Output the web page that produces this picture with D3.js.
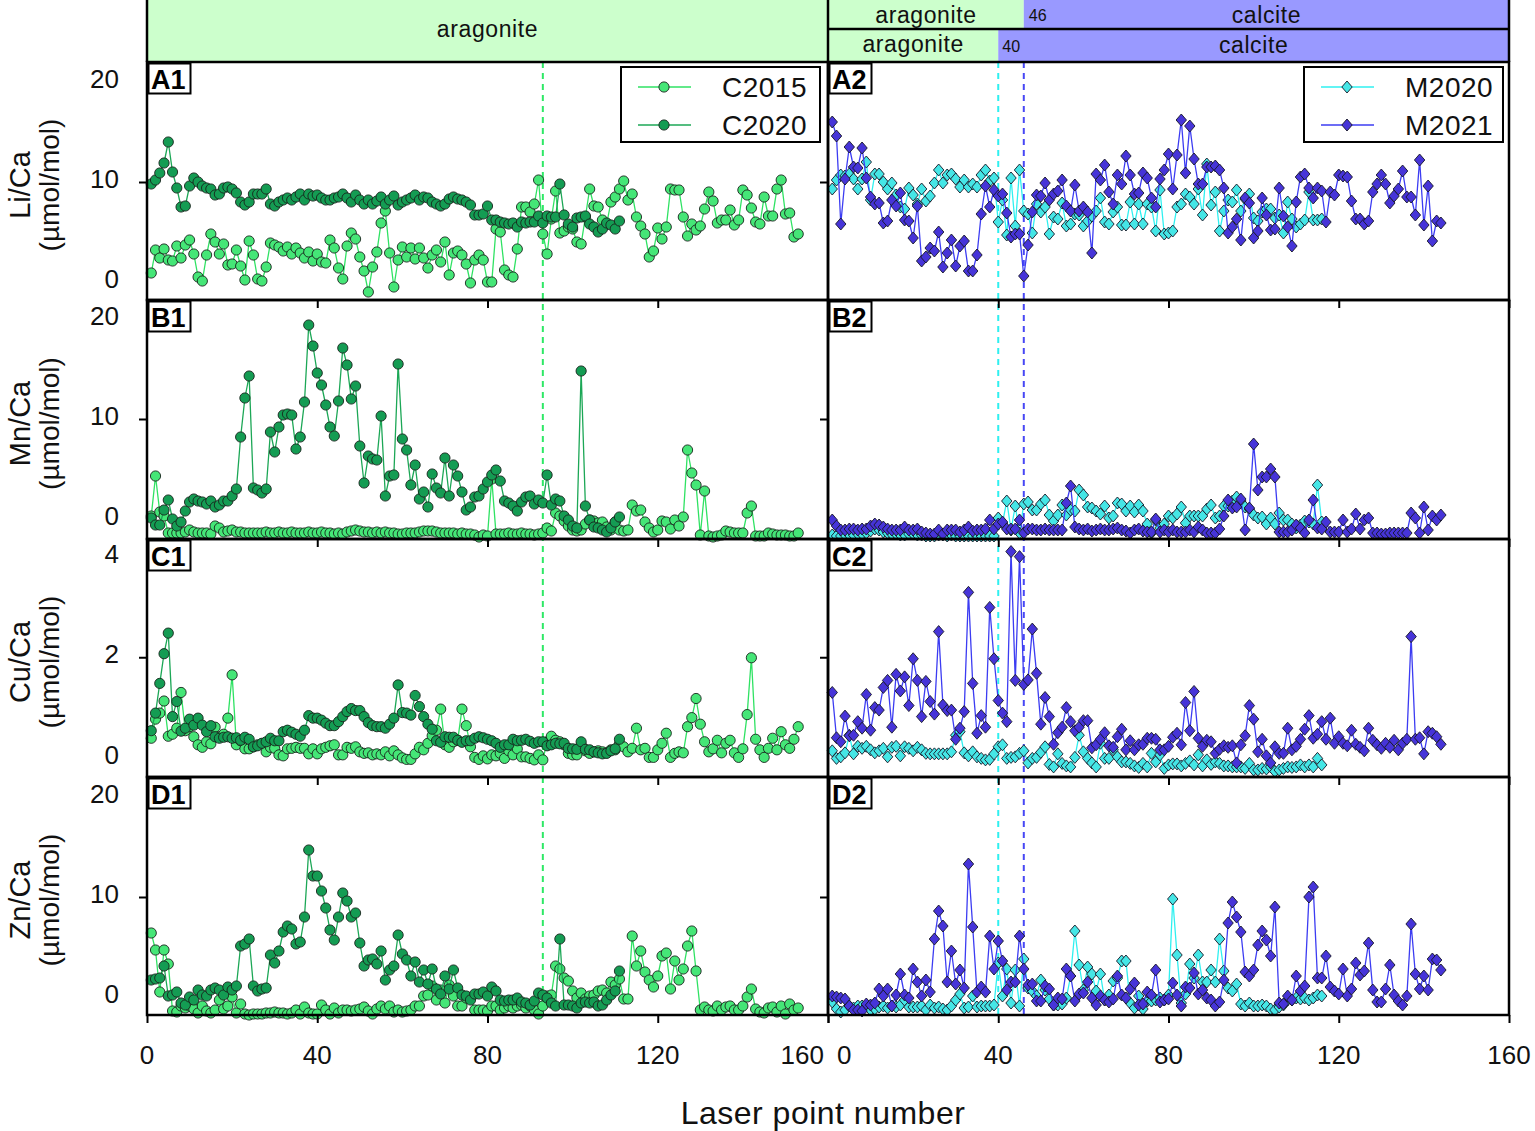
<!DOCTYPE html>
<html>
<head>
<meta charset="utf-8">
<script src="https://cdn.jsdelivr.net/npm/d3@7"></script>
<style>
  body { margin: 0; background: #fff; }
  svg { display: block; }
</style>
</head>
<body>
<svg id="chart" width="1535" height="1131"></svg>
<script>
// ------------------------------------------------------------
// Element/Ca ratios along laser transects
// index i -> laser point number i+1
// ------------------------------------------------------------

// ---- Li/Ca ----
const liC2015 = [
  0.9, 3.2, 2.4, 3.3, 2.2, 2.1, 3.6, 2.4, 3.7, 4.2,
  2.8, 0.5, 0.1, 2.7, 4.8, 4.0, 2.8, 3.8, 1.7, 1.8,
  3.2, 1.6, 0.2, 4.1, 2.7, 0.3, 0.1, 1.5, 3.9, 3.7,
  3.5, 3.1, 3.5, 2.8, 3.4, 2.9, 2.4, 3.0, 2.1, 2.8,
  2.0, 1.9, 4.2, 3.4, 1.4, 0.3, 3.6, 4.9, 4.3, 2.5,
  1.1, -1.0, 1.5, 3.0, 5.9, 7.1, 2.9, -0.5, 2.2, 3.5,
  2.5, 3.4, 2.3, 3.4, 2.4, 1.4, 2.7, 3.2, 2.0, 4.0,
  0.7, 2.9, 3.1, 2.7, 1.8, -0.1, 2.2, 2.7, 2.2, 0.0,
  0.0, 5.3, 5.0, 1.2, 0.7, 0.5, 3.3, 7.5, 7.5, 7.0,
  7.8, 10.2, 4.8, 2.8, 6.3, 9.1, 4.9, 5.1, 5.5, 5.3,
  4.0, 3.8, 6.5, 9.3, 7.6, 7.5, 6.2, 5.8, 8.0, 8.5,
  9.3, 10.1, 8.2, 8.8, 6.5, 5.6, 4.8, 2.5, 3.1, 5.4,
  4.3, 5.5, 9.3, 9.2, 9.2, 6.5, 4.6, 5.8, 5.2, 5.6,
  7.3, 9.0, 8.1, 5.9, 6.2, 6.2, 7.2, 5.7, 6.2, 9.2,
  8.7, 7.4, 6.0, 5.8, 8.5, 6.6, 6.6, 9.3, 10.2, 6.8,
  6.9, 4.5, 4.8
];
const liC2020 = [
  9.8, 10.2, 10.9, 11.9, 14.0, 11.0, 9.4, 7.5, 7.6, 9.6,
  10.4, 10.0, 9.6, 9.4, 9.3, 8.7, 8.8, 9.4, 9.5, 9.3,
  8.9, 8.0, 7.7, 8.0, 8.8, 8.8, 8.8, 9.3, 7.8, 7.6,
  8.0, 8.2, 8.4, 8.2, 8.5, 8.8, 8.2, 8.8, 8.6, 8.7,
  8.4, 8.2, 8.2, 8.4, 8.5, 8.8, 8.4, 8.0, 8.7, 8.2,
  7.8, 8.2, 7.8, 8.1, 8.5, 7.8, 8.2, 8.6, 7.7, 8.0,
  8.2, 8.4, 8.7, 8.2, 8.5, 8.4, 8.0, 7.8, 7.6, 7.8,
  8.3, 8.5, 8.3, 8.2, 8.0, 7.7, 6.7, 6.7, 6.8, 7.6,
  6.2, 6.2, 6.0, 5.9, 5.8, 5.9, 5.5, 6.0, 5.9, 6.0,
  6.0, 6.6, 5.9, 6.6, 6.5, 6.5, 9.8, 6.7, 5.8, 5.5,
  6.4, 6.5, 6.6, 5.8, 5.5, 5.0, 5.3, 5.9, 5.7, 5.3, 6.1
];
const liM2020 = [
  9.3, 10.2, 10.7, 10.6, 10.8, 10.3, 9.3, 10.3, 12.0, 8.2,
  10.8, 10.8, 10.0, 9.3, 9.9, 8.7, 7.5, 7.3, 9.4, 8.7,
  7.8, 9.3, 8.1, 8.6, 9.9, 11.2, 9.9, 10.7, 10.8, 10.3,
  9.5, 10.2, 9.5, 9.8, 9.5, 10.7, 11.2, 10.1, 10.4, 6.0,
  8.2, 4.7, 10.4, 5.6, 11.2, 7.1, 6.8, 4.9, 7.8, 7.0,
  7.5, 4.8, 6.5, 6.3, 7.9, 5.6, 5.8, 6.8, 6.7, 5.6,
  6.1, 6.6, 7.1, 8.4, 6.0, 5.8, 7.0, 7.5, 5.7, 5.7,
  8.0, 5.8, 7.8, 5.8, 7.8, 7.5, 5.1, 9.2, 4.8, 4.9,
  5.1, 7.5, 7.8, 8.8, 8.5, 7.8, 9.3, 6.7, 11.8, 7.7,
  9.0, 5.1, 7.1, 8.2, 8.0, 9.2, 7.1, 8.3, 8.8, 6.4,
  6.1, 7.0, 7.3, 7.3, 6.4, 6.7, 4.9, 8.0, 6.3, 5.5,
  5.8, 6.2, 9.0, 6.2, 6.2, 6.3
];
const liM2021 = [
  16.0, 14.6, 5.8, 10.3, 13.5, 11.5, 11.4, 13.4, 10.4, 8.5,
  7.8, 7.9, 5.9, 6.1, 8.2, 7.6, 8.9, 6.2, 6.1, 4.4,
  7.6, 2.1, 2.5, 3.4, 3.1, 5.0, 1.5, 2.9, 4.2, 1.6,
  3.6, 4.1, 1.1, 1.1, 2.7, 6.8, 9.6, 7.5, 9.2, 8.6,
  8.8, 6.9, 4.5, 4.8, 4.8, 0.6, 3.7, 7.0, 8.7, 8.6,
  9.9, 8.2, 8.8, 9.1, 10.2, 7.6, 7.1, 9.7, 7.1, 7.5,
  7.0, 2.9, 10.8, 10.2, 11.7, 9.0, 7.8, 10.7, 9.8, 12.6,
  10.7, 8.8, 8.9, 10.9, 10.4, 8.4, 7.5, 10.3, 11.2, 12.8,
  9.3, 12.7, 16.2, 10.9, 15.6, 12.3, 9.8, 9.8, 11.5, 11.5,
  11.6, 11.2, 9.4, 4.9, 5.5, 6.3, 4.2, 8.4, 7.9, 4.4,
  5.1, 8.4, 6.7, 5.2, 5.3, 9.4, 6.6, 5.5, 3.6, 8.0,
  10.5, 10.8, 9.4, 8.4, 9.4, 9.1, 6.0, 9.0, 8.7, 10.7,
  10.6, 10.5, 8.1, 6.3, 6.3, 5.8, 6.1, 9.0, 9.8, 10.7,
  9.8, 7.9, 8.6, 9.3, 11.1, 8.5, 8.5, 6.7, 12.2, 5.7,
  9.6, 4.1, 6.1, 5.9
];

// ---- Mn/Ca ----
const mnC2015 = [
  0.3, 4.3, 0.7, 0.3, -1.4, -1.4, -1.4, -1.4, -1.3, -1.1,
  -1.3, -1.4, -1.4, -1.4, -1.5, -0.7, -0.9, -1.3, -1.2, -1.1,
  -1.3, -1.3, -1.4, -1.4, -1.4, -1.4, -1.4, -1.3, -1.4, -1.4,
  -1.3, -1.4, -1.4, -1.3, -1.4, -1.4, -1.4, -1.3, -1.4, -1.4,
  -1.3, -1.4, -1.4, -1.5, -1.4, -1.5, -1.3, -1.2, -1.1, -1.2,
  -1.3, -1.3, -1.4, -1.3, -1.4, -1.3, -1.4, -1.4, -1.5, -1.5,
  -1.4, -1.4, -1.4, -1.3, -1.2, -1.2, -1.2, -1.3, -1.4, -1.4,
  -1.4, -1.4, -1.5, -1.4, -1.5, -1.5, -1.6, -1.8, -1.6, -1.7,
  4.0, -1.5, -1.5, -1.5, -1.4, -1.5, -1.5, -1.4, -1.5, -1.5,
  -1.6, -1.5, -1.4, -0.9, -1.2, 0.6, 0.3, -0.2, -0.7, -1.1,
  -1.2, -1.1, -0.5, -0.1, -0.2, -0.4, -0.3, -0.8, -1.1, -0.3,
  -1.1, -1.2, -1.1, 1.4, 0.8, 0.9, -0.3, -0.9, -1.3, -1.1,
  -0.2, -0.3, -1.0, -0.1, -0.7, 0.2, 6.9, 4.6, 3.4, -1.6,
  2.8, -1.7, -1.8, -1.7, -1.6, -1.2, -1.3, -1.4, -1.4, -1.4,
  0.6, 1.3, -1.7, -1.7, -1.7, -1.4, -1.5, -1.6, -1.6, -1.6,
  -1.7, -1.7, -1.4
];
const mnC2020 = [
  0.1, -0.6, -0.6, 0.9, 1.9, 0.0, -0.7, -0.3, 0.8, 1.7,
  2.0, 1.8, 1.7, 1.5, 1.8, 1.2, 1.4, 1.8, 1.8, 2.3,
  3.0, 8.2, 12.1, 14.3, 3.1, 2.9, 2.6, 3.0, 8.7, 6.7,
  9.2, 10.4, 10.5, 10.4, 7.0, 8.2, 11.7, 19.4, 17.3, 14.6,
  13.4, 11.4, 9.2, 8.3, 11.8, 17.1, 15.4, 12.0, 13.3, 7.3,
  3.6, 6.3, 6.0, 5.9, 10.3, 2.3, 4.3, 4.4, 15.5, 8.0,
  6.9, 3.4, 5.4, 2.0, 2.7, 1.2, 4.5, 3.1, 2.6, 6.1,
  2.3, 5.4, 4.3, 2.7, 0.9, 1.2, 2.2, 2.3, 3.0, 3.7,
  4.4, 4.9, 3.8, 1.8, 1.6, 1.3, 0.8, 1.7, 2.2, 2.3,
  1.5, 1.9, 1.6, 4.4, 1.4, 2.0, 1.8, 0.3, -0.1, -0.7,
  -0.9, 14.8, 1.3, -0.1, -0.8, -0.9, -1.1, -1.3, -0.9, -0.3, 0.2
];
const mnM2020 = [
  -1.6, -1.7, -1.7, -1.6, -1.6, -1.6, -1.5, -1.5, -1.4, -1.2,
  -1.0, -1.1, -1.3, -1.4, -1.5, -1.5, -1.6, -1.6, -1.5, -1.5,
  -1.6, -1.6, -1.7, -1.7, -1.7, -1.6, -1.6, -1.7, -1.6, -1.7,
  -1.7, -1.7, -1.7, -1.7, -1.7, -1.7, -1.7, -1.7, -1.7, 0.1,
  -0.4, 1.8, -1.1, 1.3, -1.4, 1.5, 1.7, 0.9, 0.9, 1.5,
  1.9, 0.4, -0.2, 0.4, 1.4, 0.4, 0.9, 0.8, 2.9, 2.4,
  1.2, 1.1, 0.8, 0.5, 1.3, 0.1, 0.3, 1.6, 1.5, 0.8,
  1.3, 0.7, 1.4, 0.8, -0.5, -1.4, -0.1, -0.9, -0.5, 0.3,
  0.1, 0.5, 1.2, -0.4, 0.3, 0.3, 0.3, 0.3, 1.0, 1.4,
  0.1, 0.3, 1.3, 1.3, 1.8, 2.2, 1.8, 1.2, 1.0, 0.4,
  0.1, 0.2, -0.5, 0.1, -0.5, 0.6, -0.1, -0.1, -0.5, -0.9,
  -0.6, -0.2, -0.3, -0.5, 3.4, -0.3
];
const mnM2021 = [
  -0.1, -0.7, -1.1, -1.1, -1.0, -1.0, -1.1, -1.0, -1.0, -0.7,
  -0.5, -0.6, -0.8, -1.0, -1.1, -1.1, -1.1, -0.8, -1.1, -1.1,
  -1.0, -1.3, -1.4, -1.5, -1.5, -1.1, -1.5, -1.1, -1.1, -1.1,
  -1.3, -1.1, -0.8, -1.2, -1.1, -1.1, -1.0, -0.1, -1.0, -0.5,
  -0.3, -1.0, -1.0, -1.0, -0.1, -1.4, -1.0, -1.0, -1.1, -1.1,
  -1.0, -1.1, -1.1, -1.1, -1.1, 1.6, 3.3, -0.8, -1.0, -1.1,
  -1.0, -1.2, -1.1, -1.0, -1.1, -1.1, -1.0, -0.9, -1.1, -1.2,
  -1.4, -1.1, -1.0, -1.2, -1.3, -1.3, 0.0, -1.3, -1.1, -1.3,
  -1.1, -1.3, -1.3, -1.3, -1.1, -1.3, -0.8, -1.1, -1.4, -1.4,
  -1.4, -1.0, 0.3, 1.9, 1.1, 1.2, 2.0, -1.1, 1.1, 7.5,
  2.9, 4.2, 4.2, 5.0, 4.2, -1.3, -1.3, -1.3, -1.1, -0.6,
  -0.9, -1.4, -0.1, 1.9, -0.9, -1.0, -0.3, -1.3, -1.3, -1.3,
  -0.1, -1.3, -1.0, 0.5, -1.0, -0.1, 0.1, -1.4, -1.4, -1.5,
  -1.5, -1.4, -1.4, -1.4, -1.4, -1.4, 0.6, 0.1, -1.4, 1.2,
  -1.1, 0.3, -0.1, 0.4
];

// ---- Cu/Ca ----
const cuC2015 = [
  0.39, 0.77, 0.89, 1.13, 0.43, 0.47, 0.59, 1.30, 0.54, 0.62,
  0.42, 0.26, 0.21, 0.32, 0.28, 0.61, 0.42, 0.47, 0.79, 1.65,
  0.26, 0.34, 0.18, 0.18, 0.22, 0.26, 0.28, 0.12, 0.21, 0.19,
  0.06, 0.04, 0.18, 0.19, 0.21, 0.19, 0.19, 0.08, 0.18, 0.08,
  0.18, 0.21, 0.24, 0.26, 0.06, 0.06, 0.21, 0.19, 0.22, 0.12,
  0.09, 0.10, 0.06, 0.08, 0.06, 0.12, 0.04, 0.14, 0.06, 0.00,
  -0.03, -0.03, 0.08, 0.21, 0.16, 0.29, 0.44, 0.55, 0.97, 0.26,
  0.21, 0.32, 0.35, 0.97, 0.64, 0.22, 0.01, -0.03, 0.04, -0.02,
  0.06, 0.04, 0.09, -0.01, 0.14, 0.06, 0.18, 0.02, 0.02, -0.01,
  -0.04, 0.06, -0.04, 0.32, 0.43, 0.35, 0.32, 0.26, 0.09, 0.06,
  0.06, 0.26, 0.14, 0.09, 0.12, 0.14, 0.12, 0.10, 0.16, 0.16,
  0.28, 0.22, 0.12, 0.19, 0.59, 0.16, 0.19, 0.01, 0.01, 0.16,
  0.29, 0.49, 0.01, 0.09, 0.12, 0.10, 0.62, 0.80, 1.18, 0.67,
  0.32, 0.12, 0.18, 0.35, 0.10, 0.29, 0.35, 0.10, 0.01, 0.18,
  0.86, 1.99, 0.37, 0.16, 0.01, 0.19, 0.39, 0.16, 0.52, 0.26,
  0.19, 0.37, 0.62
];
const cuC2020 = [
  0.54, 0.89, 1.48, 2.07, 2.48, 0.82, 1.12, 0.53, 0.59, 0.77,
  0.65, 0.79, 0.65, 0.52, 0.64, 0.42, 0.39, 0.41, 0.42, 0.39,
  0.40, 0.35, 0.41, 0.37, 0.22, 0.24, 0.29, 0.32, 0.39, 0.34,
  0.34, 0.52, 0.55, 0.51, 0.47, 0.43, 0.55, 0.84, 0.79, 0.79,
  0.75, 0.69, 0.64, 0.64, 0.72, 0.82, 0.92, 0.98, 0.94, 0.94,
  0.82, 0.70, 0.64, 0.62, 0.62, 0.59, 0.67, 0.79, 1.45, 0.90,
  0.89, 0.85, 1.24, 1.02, 0.82, 0.67, 0.57, 0.34, 0.31, 0.42,
  0.41, 0.41, 0.35, 0.31, 0.34, 0.34, 0.39, 0.42, 0.40, 0.37,
  0.34, 0.29, 0.21, 0.26, 0.26, 0.37, 0.34, 0.35, 0.37, 0.33,
  0.29, 0.32, 0.32, 0.24, 0.26, 0.29, 0.28, 0.29, 0.19, 0.18,
  0.17, 0.32, 0.17, 0.16, 0.12, 0.10, 0.08, 0.09, 0.14, 0.18, 0.37
];
const cuM2020 = [
  0.14, -0.01, 0.02, 0.10, 0.45, 0.08, 0.23, 0.19, 0.23, 0.16,
  0.10, 0.14, 0.19, 0.02, 0.21, 0.23, 0.04, 0.22, 0.19, 0.14,
  0.21, 0.16, 0.09, 0.08, 0.08, 0.08, 0.08, 0.08, 0.12, 0.45,
  0.52, 0.10, 0.04, 0.12, 0.02, -0.01, -0.04, -0.03, 0.08, 0.22,
  0.26, -0.01, 0.01, 0.02, 0.09, 0.14, -0.10, -0.01, 0.01, 0.11,
  0.22, -0.13, -0.18, 0.08, -0.11, -0.16, -0.18, 0.01, 0.45, 0.12,
  -0.01, -0.10, -0.18, 0.29, -0.01, -0.01, 0.16, 0.02, -0.08, -0.08,
  -0.11, -0.16, -0.19, -0.11, -0.18, 0.09, -0.08, 0.06, -0.21, -0.14,
  -0.12, -0.12, -0.16, -0.11, -0.06, -0.14, 0.06, -0.16, -0.04, -0.13,
  -0.08, -0.11, -0.16, -0.16, -0.18, -0.18, -0.18, -0.21, -0.11, -0.24,
  -0.24, -0.21, -0.22, -0.18, -0.27, -0.24, -0.21, -0.18, -0.19, -0.18,
  -0.14, -0.18, -0.14, -0.18, -0.01, -0.14
];
const cuM2021 = [
  1.30, 0.40, 0.32, 0.83, 0.44, 0.45, 0.72, 0.59, 1.26, 0.55,
  1.00, 0.95, 1.40, 1.54, 0.61, 1.66, 1.33, 1.61, 1.04, 1.97,
  1.54, 0.82, 1.52, 1.12, 0.87, 2.51, 1.05, 0.94, 0.95, 0.37,
  0.59, 0.92, 3.29, 1.48, 0.49, 0.84, 0.61, 2.99, 1.97, 1.14,
  0.89, 0.72, 4.10, 1.54, 4.00, 1.46, 1.55, 2.56, 1.68, 0.67,
  1.20, 0.82, 0.27, 0.50, 0.61, 1.00, 0.72, 0.54, 0.61, 0.74,
  0.74, 0.20, 0.26, 0.37, 0.50, 0.24, 0.21, 0.42, 0.57, 0.16,
  0.34, 0.16, 0.26, 0.27, 0.39, 0.39, 0.37, 0.16, 0.16, 0.23,
  0.41, 0.49, 0.26, 1.10, 0.54, 1.32, 0.39, 0.23, 0.35, 0.32,
  0.09, 0.17, 0.24, 0.21, 0.24, -0.10, 0.26, 0.44, 1.04, 0.77,
  0.12, 0.37, 0.04, -0.10, 0.22, 0.09, 0.09, 0.59, 0.16, 0.23,
  0.37, 0.57, 0.84, 0.39, 0.47, 0.72, 0.37, 0.79, 0.29, 0.42,
  0.29, 0.24, 0.55, 0.27, 0.21, 0.14, 0.59, 0.35, 0.26, 0.19,
  0.29, 0.21, 0.35, 0.16, 0.29, 0.37, 2.41, 0.37, 0.40, 0.08,
  0.52, 0.49, 0.42, 0.27
];

// ---- Zn/Ca ----
const znC2015 = [
  6.4, 4.7, 0.5, 4.7, 3.3, -1.4, -1.5, -0.9, -1.1, -0.9,
  -1.2, -1.6, -0.9, -1.4, -1.6, -1.3, -0.3, -1.2, -0.9, 0.0,
  -1.6, -0.7, -1.7, -1.8, -1.7, -1.7, -1.7, -1.6, -1.6, -1.5,
  -1.6, -1.6, -1.7, -1.6, -1.3, -1.7, -1.0, -1.6, -1.7, -1.7,
  -0.8, -1.3, -1.7, -1.1, -1.6, -1.3, -1.3, -1.4, -1.3, -1.2,
  -1.0, -1.4, -1.7, -1.2, -0.9, -1.2, -0.9, -1.5, -1.3, -1.5,
  -1.4, -1.3, -0.9, -0.9, 0.1, 0.2, 1.1, -0.3, 0.7, -0.6,
  1.2, 0.1, -0.9, -0.9, -0.1, -0.1, -1.3, -1.3, -1.3, -1.4,
  -0.9, -0.9, -1.3, -1.1, -0.9, -1.1, -0.9, -0.8, -1.1, -0.9,
  -1.3, -1.7, -0.9, 0.1, 0.2, 3.1, 2.8, 1.9, 1.6, 0.6,
  -0.1, 0.4, -0.2, 0.1, 0.2, 0.6, 0.7, 0.4, 1.5, 1.2,
  1.8, -0.2, -0.2, 6.1, 3.1, 4.6, 2.5, 1.7, 1.0, 2.1,
  4.1, 4.4, 0.8, 3.6, 1.7, 2.8, 5.1, 6.6, 2.6, -1.3,
  -1.0, -1.3, -1.4, -0.9, -1.3, -1.0, -0.9, -1.3, -1.3, -0.9,
  0.0, 0.8, -1.2, -1.5, -1.6, -1.1, -1.0, -1.5, -0.9, -1.7,
  -0.7, -1.3, -1.1
];
const znC2020 = [
  1.7, 1.8, 1.9, 3.1, 0.1, 0.2, 0.5, -0.6, -0.8, 0.0,
  -0.3, 0.7, 0.2, 0.1, 0.7, 0.9, 0.7, 0.2, 1.0, 0.7,
  1.1, 5.1, 5.3, 5.8, 1.1, 0.6, 0.8, 0.9, 4.2, 3.4,
  4.6, 6.5, 7.1, 6.8, 5.3, 5.5, 8.0, 14.7, 12.1, 12.1,
  10.6, 8.9, 6.7, 5.7, 8.0, 10.4, 9.6, 8.0, 8.4, 5.4,
  3.1, 3.7, 3.8, 3.3, 4.6, 1.7, 2.7, 3.1, 6.2, 4.3,
  3.7, 2.1, 3.5, 1.5, 2.7, 1.3, 2.8, 0.8, 0.3, 2.1,
  0.8, 2.7, 0.9, 0.2, 0.1, -0.3, 0.3, 0.3, 0.5, 0.1,
  1.0, 0.6, -0.3, -0.4, -0.3, -0.3, -0.1, -0.5, -0.6, -0.8,
  -0.4, 0.4, 0.2, -0.1, -0.6, -0.9, 5.8, -0.8, -0.8, -0.9,
  -1.1, -0.6, -0.5, -0.6, -0.5, -0.9, -0.8, -0.3, 0.2, 0.6, 2.6
];
const znM2020 = [
  -0.5, -1.2, -1.5, -1.3, -0.9, -1.1, -0.9, -0.9, -0.9, -1.3,
  -1.2, -1.0, -0.9, -1.1, -0.9, -1.0, -0.8, -0.3, -1.0, -1.0,
  -1.0, -0.9, -1.3, -0.8, -1.1, -1.0, -1.2, -1.3, -0.9, -0.3,
  0.3, -1.1, -1.0, 0.1, -1.0, -0.9, -0.9, -0.9, -0.8, 3.4,
  0.1, 2.8, -0.6, 2.7, -0.9, 3.8, 0.9, 0.6, 0.1, 1.7,
  0.7, -0.2, -0.8, -0.8, -0.7, -0.1, 2.1, 6.6, 3.2, 0.7,
  3.0, 2.3, 0.6, 2.3, -0.3, 0.2, 1.6, 1.9, 3.6, 3.6,
  -0.6, -1.1, 0.1, -1.2, -0.4, -0.4, -0.3, -0.1, -0.3, 0.2,
  9.8, 4.2, -0.6, 0.3, 3.3, 1.9, 4.2, 1.5, 1.5, 2.7,
  1.5, 5.8, 2.6, 0.9, 0.6, 1.3, -0.7, -0.9, -0.6, -0.9,
  -0.9, -0.8, -0.9, -1.2, -1.3, -1.0, -0.8, -0.3, -0.3, -0.1,
  -0.2, -0.1, -0.3, -0.1, 0.2, 0.1
];
const znM2021 = [
  0.1, 0.0, -0.1, -0.2, -0.9, -1.3, -1.3, -1.4, -0.7, -0.8,
  -0.6, 0.8, 0.1, 0.8, -0.9, 0.2, 2.3, 0.2, -0.1, 2.8,
  1.5, 0.1, 1.7, 0.5, 5.8, 8.6, 7.1, 1.5, 4.6, 1.3,
  2.7, 0.9, 13.3, 7.0, 0.5, 1.0, 0.5, 6.1, 2.8, 5.6,
  3.6, 0.7, 1.5, 1.5, 6.1, 2.8, 1.2, 1.3, -0.4, -0.4,
  1.1, 0.8, -0.8, -0.1, -0.2, 2.8, 2.1, -0.4, 0.3, 0.4,
  1.5, -0.1, -0.8, 0.1, -0.3, -0.5, -0.2, 2.1, 0.2, -0.1,
  0.8, 1.4, -0.8, -0.7, 0.5, 0.2, 2.7, -0.5, -0.3, -0.2,
  1.4, 0.2, -0.9, 1.0, 0.9, 2.4, 0.3, 0.7, -0.1, -0.3,
  -0.9, -0.5, 1.7, 7.4, 9.5, 8.0, 6.5, 2.5, 2.1, 2.7,
  5.2, 6.6, 5.7, 4.1, 9.0, -0.6, -0.7, 0.1, -0.3, 2.1,
  0.6, 1.1, 10.0, 11.0, 1.9, 1.9, 4.1, 1.0, 0.6, 0.3,
  2.8, 0.1, 0.8, 3.4, 2.2, 2.6, 5.4, 0.7, -0.5, -0.5,
  0.8, 3.2, 0.2, -0.4, -0.8, 0.1, 7.3, 2.3, 0.8, 2.1,
  0.7, 3.8, 3.7, 2.7
];

// ---- axes ----
const xTicks = [0, 40, 80, 120, 160];
const rowLabels = ['Li/Ca', 'Mn/Ca', 'Cu/Ca', 'Zn/Ca'];
const rowTags = [['A1', 'A2'], ['B1', 'B2'], ['C1', 'C2'], ['D1', 'D2']];
const rowDomains = [[-1.8, 22], [-2, 21.9], [-0.38, 4.35], [-1.8, 22]];
const rowTickLabels = [[0, 10, 20], [0, 10, 20], [0, 2, 4], [0, 10, 20]];
const rowMidTick = [10, 10, 2, 10];
const unitLabel = '(\u00b5mol/mol)';

// ---- mineralogy bands / boundaries ----
const leftBoundary = 93;      // dashed line, C series
const m2020Boundary = 40;     // aragonite -> calcite, M2020
const m2021Boundary = 46;     // aragonite -> calcite, M2021

// ------------------------------------------------------------
const FONT = '"Liberation Sans", Arial, Helvetica, sans-serif';
const svg = d3.select('#chart').style('font-family', FONT);

const styles = {
  C2015: { line: '#2fe263', fill: '#45e677', shape: 'circle' },
  C2020: { line: '#1ca756', fill: '#149c53', shape: 'circle' },
  M2020: { line: '#2ff0f0', fill: '#45e6e6', shape: 'diamond' },
  M2021: { line: '#3c3cf2', fill: '#4634d8', shape: 'diamond' }
};

const rows = rowLabels.map((label, r) => ({
  label,
  tags: rowTags[r],
  domain: rowDomains[r],
  tickLabels: rowTickLabels[r],
  mid: rowMidTick[r],
  left: [['C2015', [liC2015, mnC2015, cuC2015, znC2015][r]],
         ['C2020', [liC2020, mnC2020, cuC2020, znC2020][r]]],
  right: [['M2020', [liM2020, mnM2020, cuM2020, znM2020][r]],
          ['M2021', [liM2021, mnM2021, cuM2021, znM2021][r]]]
}));

const rowTop = [62, 300, 539, 777];
const rowBot = [300, 539, 777, 1015];
const xL = d3.scaleLinear().domain([0, 160]).range([147, 828]);
const xR = d3.scaleLinear().domain([0, 160]).range([828, 1509]);

const diamond = 'M0,-6L5.2,0L0,6L-5.2,0Z';

function drawMarkers(g, pts, st) {
  if (st.shape === 'circle') {
    g.selectAll(null).data(pts).join('circle')
      .attr('cx', d => d[0]).attr('cy', d => d[1]).attr('r', 5.1)
      .attr('fill', st.fill).attr('stroke', '#17251c').attr('stroke-width', 0.9);
  } else {
    g.selectAll(null).data(pts).join('path')
      .attr('d', diamond)
      .attr('transform', d => `translate(${d[0]},${d[1]})`)
      .attr('fill', st.fill).attr('stroke', '#161626').attr('stroke-width', 0.9);
  }
}

function drawSeries(g, xs, ys, vals, st) {
  const pts = vals.map((v, i) => [xs(i + 1), ys(v)]);
  g.append('path').datum(pts)
    .attr('d', d3.line())
    .attr('fill', 'none')
    .attr('stroke', st.line)
    .attr('stroke-width', 1.3);
  drawMarkers(g.append('g'), pts, st);
}

// ---- header bands ----
const header = svg.append('g');
header.append('rect').attr('x', xL(0)).attr('y', 0)
  .attr('width', xL(160) - xL(0)).attr('height', 62).attr('fill', '#ccffcc');
header.append('rect').attr('x', xR(0)).attr('y', 0)
  .attr('width', xR(m2021Boundary) - xR(0)).attr('height', 29).attr('fill', '#ccffcc');
header.append('rect').attr('x', xR(m2021Boundary)).attr('y', 0)
  .attr('width', xR(160) - xR(m2021Boundary)).attr('height', 29).attr('fill', '#9999ff');
header.append('rect').attr('x', xR(0)).attr('y', 29)
  .attr('width', xR(m2020Boundary) - xR(0)).attr('height', 33).attr('fill', '#ccffcc');
header.append('rect').attr('x', xR(m2020Boundary)).attr('y', 29)
  .attr('width', xR(160) - xR(m2020Boundary)).attr('height', 33).attr('fill', '#9999ff');

[[xL(0), 0, xL(0), 62], [xL(160), 0, xL(160), 62], [xR(160), 0, xR(160), 62],
 [xR(0), 29, xR(160), 29]].forEach(l => {
  header.append('line').attr('x1', l[0]).attr('y1', l[1]).attr('x2', l[2]).attr('y2', l[3])
    .attr('stroke', '#000').attr('stroke-width', 2.5);
});

const headerText = [
  ['aragonite', (xL(0) + xL(160)) / 2, 29, 'middle', 23],
  ['aragonite', (xR(0) + xR(m2021Boundary)) / 2, 15, 'middle', 23],
  ['calcite', (xR(m2021Boundary) + xR(160)) / 2, 15, 'middle', 23],
  ['aragonite', (xR(0) + xR(m2020Boundary)) / 2, 44, 'middle', 23],
  ['calcite', (xR(m2020Boundary) + xR(160)) / 2, 45, 'middle', 23],
  [String(m2021Boundary), xR(m2021Boundary) + 5, 15, 'start', 16],
  [String(m2020Boundary), xR(m2020Boundary) + 4, 46, 'start', 16]
];
headerText.forEach(t => {
  header.append('text').text(t[0]).attr('x', t[1]).attr('y', t[2])
    .attr('dy', '0.35em').attr('text-anchor', t[3])
    .attr('font-size', t[4]).attr('fill', '#111').attr('letter-spacing', t[4] > 20 ? 0.6 : 0);
});

// ---- boundary dashed lines ----
const dashes = svg.append('g');
[[xL(leftBoundary), '#2ee866'], [xR(m2020Boundary), '#2ef0f0'], [xR(m2021Boundary), '#4747f5']]
  .forEach(d => {
    dashes.append('line').attr('x1', d[0]).attr('x2', d[0])
      .attr('y1', 62).attr('y2', 1015)
      .attr('stroke', d[1]).attr('stroke-width', 2).attr('stroke-dasharray', '6,5');
  });

// ---- panels ----
rows.forEach((row, r) => {
  const y = d3.scaleLinear().domain(row.domain).range([rowBot[r], rowTop[r]]);
  const g = svg.append('g');

  row.left.forEach(([name, vals]) => drawSeries(g, xL, y, vals, styles[name]));
  row.right.forEach(([name, vals]) => drawSeries(g, xR, y, vals, styles[name]));

  // frames
  [xL, xR].forEach(xs => {
    g.append('rect').attr('x', xs(0)).attr('y', rowTop[r])
      .attr('width', xs(160) - xs(0)).attr('height', rowBot[r] - rowTop[r])
      .attr('fill', 'none').attr('stroke', '#000').attr('stroke-width', 2.5);

    // bottom ticks (outward)
    const ax = g.append('g').attr('transform', `translate(0,${rowBot[r]})`)
      .call(d3.axisBottom(xs).tickValues(xTicks).tickSize(8).tickFormat(''));
    ax.select('.domain').remove();
    ax.selectAll('line').attr('stroke', '#000').attr('stroke-width', 2);

    // middle y tick (outward, left)
    const ay = g.append('g').attr('transform', `translate(${xs(0)},0)`)
      .call(d3.axisLeft(y).tickValues([row.mid]).tickSize(8).tickFormat(''));
    ay.select('.domain').remove();
    ay.selectAll('line').attr('stroke', '#000').attr('stroke-width', 2);
  });

  // y tick labels (left panel only)
  g.selectAll(null).data(row.tickLabels).join('text')
    .attr('x', 119).attr('y', v => y(v) - 3).attr('dy', '0.35em')
    .attr('text-anchor', 'end').attr('font-size', 26).attr('fill', '#111')
    .text(v => v);

  // y axis title
  const cy = (rowTop[r] + rowBot[r]) / 2 + 4;
  g.append('text').attr('transform', `translate(30,${cy}) rotate(-90)`)
    .attr('text-anchor', 'middle').attr('font-size', 29).attr('fill', '#111')
    .text(row.label);
  g.append('text').attr('transform', `translate(59,${cy}) rotate(-90)`)
    .attr('text-anchor', 'middle').attr('font-size', 28).attr('fill', '#111')
    .text(unitLabel);

  // panel tags
  [xL, xR].forEach((xs, k) => {
    g.append('rect').attr('x', xs(0) + 1.5).attr('y', rowTop[r] + 1.5)
      .attr('width', 42).attr('height', 30)
      .attr('fill', '#fff').attr('stroke', '#000').attr('stroke-width', 2);
    g.append('text').attr('x', xs(0) + 4).attr('y', rowTop[r] + 27)
      .attr('font-size', 27).attr('font-weight', 'bold').attr('fill', '#000')
      .text(row.tags[k]);
  });
});

// ---- x axis labels ----
const xlab = svg.append('g').attr('font-size', 26).attr('fill', '#111');
[[xL, 'L'], [xR, 'R']].forEach(([xs, side]) => {
  xTicks.forEach(t => {
    let anchor = 'middle', dx = 0;
    if (side === 'L' && t === 160) { anchor = 'end'; dx = -4; }
    if (side === 'R' && t === 0) { anchor = 'start'; dx = 9; }
    xlab.append('text').attr('x', xs(t) + dx).attr('y', 1064)
      .attr('text-anchor', anchor).text(t);
  });
});
svg.append('text').attr('x', 823).attr('y', 1124).attr('text-anchor', 'middle')
  .attr('font-size', 32).attr('letter-spacing', 0.5).attr('fill', '#111').text('Laser point number');

// ---- legends ----
function legend(x0, names) {
  const g = svg.append('g');
  g.append('rect').attr('x', x0).attr('y', 67).attr('width', 199).attr('height', 75)
    .attr('fill', '#fff').attr('stroke', '#000').attr('stroke-width', 2);
  names.forEach((name, i) => {
    const yy = 87 + i * 38;
    const st = styles[name];
    g.append('line').attr('x1', x0 + 17).attr('x2', x0 + 70).attr('y1', yy).attr('y2', yy)
      .attr('stroke', st.line).attr('stroke-width', 1.5);
    drawMarkers(g.append('g'), [[x0 + 43, yy]], st);
    g.append('text').attr('x', x0 + 101).attr('y', yy).attr('dy', '0.36em')
      .attr('font-size', 28).attr('fill', '#111').attr('letter-spacing', 0.5).text(name);
  });
}
legend(621, ['C2015', 'C2020']);
legend(1304, ['M2020', 'M2021']);
</script>
</body>
</html>
